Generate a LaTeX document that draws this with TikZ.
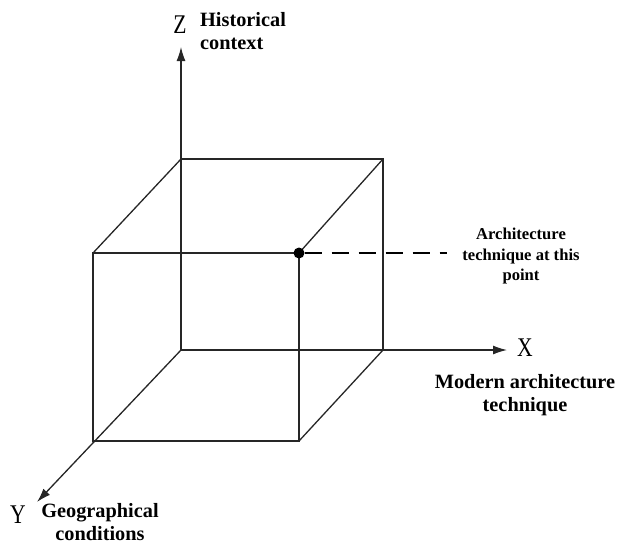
\documentclass[tikz,border=0pt]{standalone}
\usepackage{fontspec}
\setmainfont{Liberation Serif}
\usetikzlibrary{arrows.meta}
\begin{document}
\begin{tikzpicture}[x=1pt,y=-1pt,
  edge/.style={line width=1.3pt, draw=black!85, line join=miter},
  axis/.style={line width=1.3pt, draw=black!85, -{Latex[length=14pt,width=9pt]}},
  axlabel/.style={font=\fontsize{27}{27}\selectfont, inner sep=0pt},
  caption/.style={font=\bfseries\fontsize{20.3}{23}\selectfont, align=center, inner sep=0pt},
  small/.style={font=\bfseries\fontsize{16.6}{20.5}\selectfont, align=center, inner sep=0pt},
  pointdot/.style={circle, fill=black, inner sep=0pt, minimum size=11pt},
  dashline/.style={line width=1.8pt, dash pattern=on 17pt off 10pt},
]
\useasboundingbox (0,0) rectangle (628,547);
% back face
\coordinate (b1) at (181,159);
\coordinate (b2) at (383,159);
\coordinate (b3) at (383,350);
\coordinate (b4) at (181,350);
% front face
\coordinate (f1) at (93,253);
\coordinate (f2) at (299,253);
\coordinate (f3) at (299,441);
\coordinate (f4) at (93,441);
% axis ends
\coordinate (zt) at (181,47);
\coordinate (xt) at (507,350);
\coordinate (yt) at (37,502);
\coordinate (de) at (447,253);

\draw[edge] (b1) -- (b2) -- (b3);
\draw[edge] (f1) -- (f2) -- (f3) -- (f4) -- cycle;
\draw[edge] (b1) -- (f1);
\draw[edge] (b2) -- (f2);
\draw[edge] (b3) -- (f3);

\draw[axis] (b4) -- (zt);
\draw[axis] (b4) -- (xt);
\draw[axis] (b4) -- (yt);

\node[pointdot] (pt) at (f2) {};
\draw[dashline] (pt) -- (de);

\node[axlabel] (zl) at (180,25) {\scalebox{0.8}[1]{Z}};
\node[axlabel] (xl) at (525,348) {\scalebox{0.8}[1]{X}};
\node[axlabel] (yl) at (18,515) {\scalebox{0.8}[1]{Y}};

\node[caption, align=left, anchor=west] (zc) at (200,31) {Historical\\context};
\node[caption] (xc) at (525,395) {Modern architecture\\technique};
\node[caption] (yc) at (100,522) {Geographical\\conditions};
\node[small] (pc) at (521,256) {Architecture\\technique at this\\point};
\end{tikzpicture}
\end{document}
